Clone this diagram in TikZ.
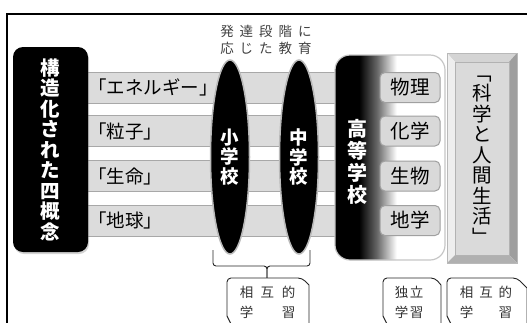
\documentclass[tikz,border=0pt]{standalone}
\usepackage{fontspec}
\setmainfont{Noto Sans CJK JP}
\usetikzlibrary{shapes.geometric,shadows}
\definecolor{barfill}{HTML}{DCDCDC}
\definecolor{barline}{HTML}{A8A8A8}
\definecolor{subjfill}{HTML}{D9D9D9}
\definecolor{subjline}{HTML}{A0A0A0}
\definecolor{bevtop}{HTML}{D4D4D4}
\definecolor{bevleft}{HTML}{EEEEEE}
\definecolor{bevright}{HTML}{9E9E9E}
\definecolor{bevbot}{HTML}{B0B0B0}
\definecolor{bevface}{HTML}{DADADA}
\pgfdeclarehorizontalshading{hsgrad}{100bp}{color(0bp)=(black); color(36bp)=(black); color(44bp)=(black!60); color(53bp)=(white); color(100bp)=(white)}
\begin{document}
\begin{tikzpicture}[x=1pt,y=-1pt,
  bar/.style={fill=barfill, draw=barline, line width=1pt},
  conc/.style={anchor=west, inner sep=0pt, font=\fontsize{18.5}{20}\selectfont},
  subj/.style={rounded corners=5pt, fill=subjfill, draw=subjline, line width=1pt, minimum width=60pt, minimum height=30pt, inner sep=0pt, font=\fontsize{19.5}{20}\selectfont},
  egg/.style={ellipse, fill=black, draw=gray!55, line width=1.5pt, minimum width=39pt, minimum height=194pt, inner sep=0pt, text=white, font=\bfseries\fontsize{18.5}{19.5}\selectfont, align=center},
  note/.style={draw=black!85, line width=0.9pt, fill=white},
  notetext/.style={inner sep=0pt, align=center, text=black!80, font=\fontsize{13.5}{20}\selectfont},
  brace/.style={draw=black!85, line width=0.9pt, rounded corners=3pt}]
\useasboundingbox (0,0) rectangle (527,322);
\clip (0,0) rectangle (527,322);
% frame
\draw[line width=2pt] (7,14) rectangle (620,420);
% top label
\node[inner sep=0pt, align=center, text=black!75, font=\fontsize{13.5}{16.5}\selectfont] (dev) at (266,40)
  {発\hspace{6pt}達\hspace{6pt}段\hspace{6pt}階\hspace{6pt}に\\応\hspace{6pt}じ\hspace{6pt}た\hspace{6pt}教\hspace{6pt}育};
% bars
\draw[bar] (80,72) rectangle (345,103);
\draw[bar] (80,115.5) rectangle (345,146.5);
\draw[bar] (80,160.5) rectangle (345,191.5);
\draw[bar] (80,205) rectangle (345,236);
\node[conc] (c1) at (88,87.5) {「エネルギー」};
\node[conc] (c2) at (88,131) {「粒子」};
\node[conc] (c3) at (88,176) {「生命」};
\node[conc] (c4) at (88,220.5) {「地球」};
% left black box
\node[fill=black, rounded corners=10pt, minimum width=75pt, minimum height=205pt, inner sep=0pt,
  drop shadow={opacity=0.35, shadow xshift=1pt, shadow yshift=-2pt},
  text=white, align=center, font=\bfseries\fontsize{19.5}{20.5}\selectfont] (four) at (50.5,149.5)
  {構\\造\\化\\さ\\れ\\た\\四\\概\\念};
% eggs
\node[egg] (sho) at (230,157) {小\\学\\校};
\node[egg] (chu) at (299,157) {中\\学\\校};
% high school
\shade[shading=hsgrad, draw=gray!45, line width=1.2pt, rounded corners=15pt] (335,55) rectangle (445,260);
\node[inner sep=0pt, text=white, align=center, font=\bfseries\fontsize{20}{22}\selectfont] (koko) at (357,162) {高\\等\\学\\校};
\node[subj] (s1) at (410,87.5) {物理};
\node[subj] (s2) at (410,131) {化学};
\node[subj] (s3) at (410,176) {生物};
\node[subj] (s4) at (410,220.5) {地学};
% bevel box
\fill[bevtop] (447,53) -- (517,53) -- (509,62) -- (455,62) -- cycle;
\fill[bevleft] (447,53) -- (455,62) -- (455,255) -- (447,263) -- cycle;
\fill[bevright] (517,53) -- (517,263) -- (509,255) -- (509,62) -- cycle;
\fill[bevbot] (447,263) -- (517,263) -- (509,255) -- (455,255) -- cycle;
\draw[fill=bevface, draw=gray!60, line width=0.6pt] (455,62) rectangle (509,255);
\draw[draw=gray!55, line width=0.8pt] (447,53) rectangle (517,263);
\node[inner sep=0pt, align=center, font=\fontsize{19.5}{20.5}\selectfont] (life) at (482,160)
  {﹁\\科\\学\\と\\人\\間\\生\\活\\﹂};
% brace
\coordinate (bm) at (267,278);
\draw[brace] (213,250) -- (213,266) -- (267,266) -- (bm);
\draw[brace] (310,250) -- (310,266) -- (267,266) -- (bm);
% bottom notes
\draw[note] (232,326) -- (227,316) {[rounded corners=4pt] -- (227,278) -- (302,278)} -- (309,285) -- (309,326);
\node[notetext] (n1) at (267.5,302) {相\hspace{7.5pt}互\hspace{7.5pt}的\\学\hspace{28.5pt}習};
\draw[note] (388,326) -- (383,316) {[rounded corners=4pt] -- (383,278) -- (435,278)} -- (441,285) -- (441,326);
\node[notetext] (n2) at (409,302) {独\hspace{1.5pt}立\\学\hspace{1.5pt}習};
\draw[note] (452,326) -- (447,316) {[rounded corners=4pt] -- (447,278) -- (517,278)} -- (527,288) -- (527,326);
\node[notetext] (n3) at (486,302) {相\hspace{6pt}互\hspace{6pt}的\\学\hspace{25.5pt}習};
\end{tikzpicture}
\end{document}
